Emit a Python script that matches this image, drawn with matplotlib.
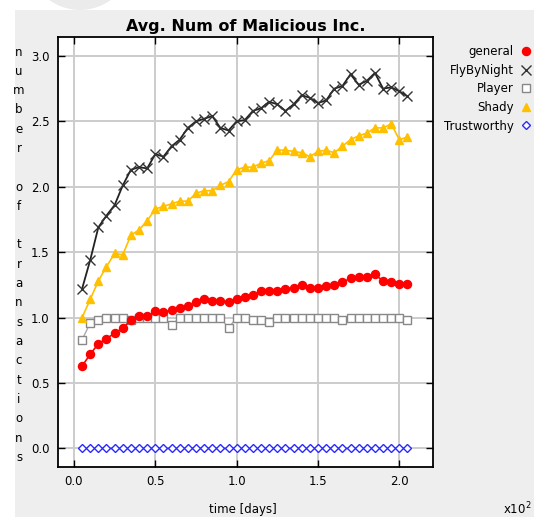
import numpy as np
import matplotlib
matplotlib.use("Agg")
import matplotlib.pyplot as plt
from matplotlib.lines import Line2D
from matplotlib.patches import Rectangle, Ellipse

# time in units of 100 days (axis carries a x10^2 multiplier)
time = [0.05, 0.10, 0.15, 0.20, 0.25, 0.30, 0.35, 0.40, 0.45, 0.50,
        0.55, 0.60, 0.65, 0.70, 0.75, 0.80, 0.85, 0.90, 0.95, 1.00,
        1.05, 1.10, 1.15, 1.20, 1.25, 1.30, 1.35, 1.40, 1.45, 1.50,
        1.55, 1.60, 1.65, 1.70, 1.75, 1.80, 1.85, 1.90, 1.95, 2.00, 2.05]

general = [0.63, 0.72, 0.80, 0.84, 0.88, 0.92, 0.98, 1.01, 1.01, 1.05,
           1.04, 1.06, 1.07, 1.09, 1.12, 1.14, 1.13, 1.13, 1.12, 1.14,
           1.16, 1.17, 1.20, 1.20, 1.20, 1.22, 1.23, 1.25, 1.23, 1.23,
           1.24, 1.25, 1.27, 1.30, 1.31, 1.31, 1.33, 1.28, 1.27, 1.26, 1.26]

fly_by_night = [1.22, 1.44, 1.69, 1.78, 1.86, 2.01, 2.13, 2.15, 2.14, 2.25,
                2.23, 2.31, 2.36, 2.45, 2.50, 2.52, 2.54, 2.45, 2.43, 2.50,
                2.51, 2.58, 2.60, 2.65, 2.63, 2.58, 2.63, 2.70, 2.68, 2.64,
                2.66, 2.75, 2.77, 2.86, 2.78, 2.81, 2.87, 2.75, 2.76, 2.73, 2.69]

player = [0.83, 0.96, 0.98, 1.00, 1.00, 1.00, 0.98, 1.00, 1.00, 1.00,
          1.00, 0.94, 1.00, 1.00, 1.00, 1.00, 1.00, 1.00, 0.92, 1.00,
          1.00, 0.98, 0.98, 0.97, 1.00, 1.00, 1.00, 1.00, 1.00, 1.00,
          1.00, 1.00, 0.98, 1.00, 1.00, 1.00, 1.00, 1.00, 1.00, 1.00, 0.98]

shady = [1.00, 1.14, 1.28, 1.39, 1.49, 1.48, 1.63, 1.67, 1.74, 1.83,
         1.85, 1.87, 1.89, 1.89, 1.95, 1.97, 1.97, 2.01, 2.04, 2.13,
         2.15, 2.15, 2.18, 2.20, 2.28, 2.28, 2.27, 2.26, 2.23, 2.27,
         2.28, 2.26, 2.31, 2.36, 2.39, 2.41, 2.45, 2.45, 2.48, 2.36, 2.38]

trustworthy = [0.0] * len(time)

series_names = ["general", "FlyByNight", "Player", "Shady", "Trustworthy"]
x_ticks = [0.0, 0.5, 1.0, 1.5, 2.0]
y_ticks = [0.0, 0.5, 1.0, 1.5, 2.0, 2.5, 3.0]
y_label = "number of transactions"

W, H = 534, 517
fig = plt.figure(figsize=(W / 100, H / 100), dpi=100, facecolor="white")

# panel background and faint decorative disc at the top
fig.patches.append(Rectangle((15 / W, 0), 1 - 15 / W, 1 - 10 / H,
                             transform=fig.transFigure, facecolor="#eeeeee",
                             edgecolor="none", zorder=-10))
fig.patches.append(Ellipse((80 / W, 1 + 60 / H), 120 / W, 140 / H,
                           transform=fig.transFigure, facecolor="#ebebeb",
                           edgecolor="none", zorder=-9))

ax = fig.add_axes([58 / W, 1 - 466.5 / H, (432.7 - 58) / W, (466.5 - 36.7) / H])
ax.set_facecolor("white")

styles = {
    "general": dict(color="#ff0000", marker="o", ms=5.8, mfc="#ff0000",
                    mec="#ff0000", lw=1.2),
    "FlyByNight": dict(color="#222222", marker="x", ms=7, mfc="none",
                       mec="#333333", mew=1.0, lw=1.3),
    "Player": dict(color="#aaaaaa", marker="s", ms=6, mfc="white",
                   mec="#888888", mew=1.0, lw=1.0),
    "Shady": dict(color="#ffc000", marker="^", ms=6, mfc="#ffc000",
                  mec="#ffc000", lw=1.2),
    "Trustworthy": dict(color="#2a2aff", marker="D", ms=4.2, mfc="white",
                        mec="#2a2aff", mew=1.0, lw=1.0),
}
data = {"general": general, "FlyByNight": fly_by_night, "Player": player,
        "Shady": shady, "Trustworthy": trustworthy}

order = ["Trustworthy", "Player", "general", "Shady", "FlyByNight"]
for name in order:
    ax.plot(time, data[name], zorder=3, clip_on=False, **styles[name])

ax.set_xlim(-0.098, 2.205)
ax.set_ylim(-0.138, 3.147)
ax.set_xticks(x_ticks)
ax.set_yticks(y_ticks)
ax.set_xticklabels([f"{v:.1f}" for v in x_ticks])
ax.set_yticklabels([f"{v:.1f}" for v in y_ticks])
ax.grid(True, color="#cccccc", lw=1.4, zorder=0)
ax.set_axisbelow(True)
ax.tick_params(direction="in", length=5, width=1, top=True, right=True,
               labelsize=8.5, colors="black")
ax.tick_params(axis="x", pad=6)
ax.tick_params(axis="y", pad=6)
for s in ax.spines.values():
    s.set_linewidth(1.3)
    s.set_color("black")

ax.set_title("Avg. Num of Malicious Inc.", fontsize=11.5, fontweight="bold",
             pad=4)

# vertical, one-letter-per-line axis label
top_px, step_px = 52, 19.3
for i, ch in enumerate(y_label):
    fig.text(19 / W, 1 - (top_px + i * step_px) / H, ch, ha="center",
             va="center", fontsize=8.5)

fig.text(243 / W, 1 - 509 / H, "time [days]", ha="center", va="center",
         fontsize=8.5)
fig.text(503 / W, 1 - 509 / H, r"x10$^{2}$", ha="left", va="center",
         fontsize=8.5)

handles = [Line2D([], [], linestyle="none", **{k: v for k, v in styles[n].items()
                                              if k not in ("lw", "color")},
                  color=styles[n]["color"]) for n in series_names]
fig.legend(handles, series_names, loc="upper right",
           bbox_to_anchor=(1.0, 1 - 43 / H), frameon=False,
           markerfirst=False, handlelength=0.9, handletextpad=0.6,
           labelspacing=0.47, fontsize=8.5, borderaxespad=0.0, borderpad=0.2)

fig.savefig("out.png", dpi=100, facecolor="white")
